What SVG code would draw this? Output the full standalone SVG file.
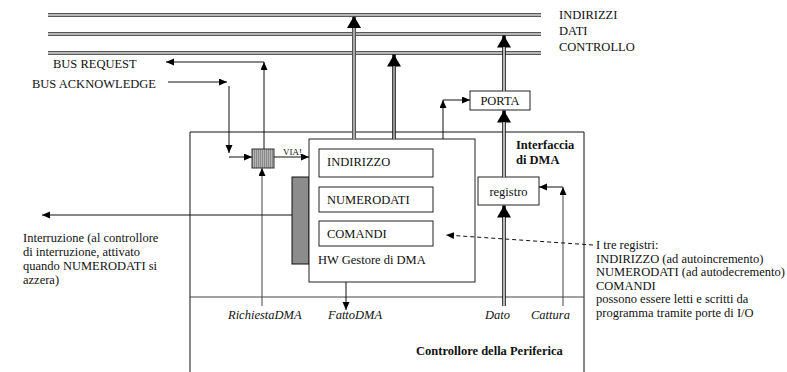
<svg xmlns="http://www.w3.org/2000/svg" width="787" height="372" viewBox="0 0 787 372">
  <style>
    text { font-family: 'Times New Roman', 'Liberation Serif', Tinos, 'Noto Serif', 'DejaVu Serif', serif; font-size: 12.5px; fill: #111; }
    .it { font-style: italic; }
    .b { font-weight: bold; }
    .small { font-size: 9px; }
    .ln { stroke: #111; stroke-width: 1; fill: none; }
    .ln2 { stroke: #444; stroke-width: 1; fill: none; }
    .bus { stroke: #111; stroke-width: 1; }
    .box { fill: #fff; stroke: #222; stroke-width: 1; }
    .dbl { stroke: #111; stroke-width: 3.6; fill: none; }
    .dblIn { stroke: #fff; stroke-width: 1.4; fill: none; }
    .gry { stroke: #555; stroke-width: 4; fill: none; }
    .gryIn { stroke: #a8a8a8; stroke-width: 2; fill: none; }
  </style>
  <defs>
    <marker id="big" markerUnits="userSpaceOnUse" markerWidth="14" markerHeight="14" refX="12" refY="7" orient="auto">
      <path d="M0,0 L12,7 L0,14 z" fill="#000"/>
    </marker>
    <marker id="sm" markerUnits="userSpaceOnUse" markerWidth="9" markerHeight="8" refX="8" refY="3.5" orient="auto">
      <path d="M0,0 L8,3.5 L0,7 z" fill="#000"/>
    </marker>
    <pattern id="stripes" patternUnits="userSpaceOnUse" width="2" height="4">
      <rect width="2" height="4" fill="#b4b4b4"/>
      <rect width="1" height="4" fill="#8a8a8a"/>
    </pattern>
  </defs>

  <!-- system bus: three double rails -->
  <g id="bus">
    <line class="bus" x1="48" y1="13.8" x2="541" y2="13.8"/>
    <line class="bus" x1="48" y1="16.2" x2="541" y2="16.2"/>
    <line class="bus" x1="48" y1="32.8" x2="541" y2="32.8"/>
    <line class="bus" x1="48" y1="35.2" x2="541" y2="35.2"/>
    <line class="bus" x1="48" y1="51.8" x2="541" y2="51.8"/>
    <line class="bus" x1="48" y1="54.2" x2="541" y2="54.2"/>
    <text x="559" y="19">INDIRIZZI</text>
    <text x="559" y="35">DATI</text>
    <text x="559" y="50.5">CONTROLLO</text>
  </g>

  <!-- peripheral controller frame with DMA interface section -->
  <g id="controllore">
    <path class="ln" d="M190,372 V132 H584 V372"/>
    <line class="ln2" x1="190" y1="297" x2="584" y2="297"/>
    <text class="b" x="416" y="354.5">Controllore della Periferica</text>
    <text class="b" x="516" y="148.5">Interfaccia</text>
    <text class="b" x="516" y="163.5">di DMA</text>
  </g>

  <!-- bus arbitration gate -->
  <g id="gate">
    <rect x="252" y="149" width="22" height="19" fill="url(#stripes)" stroke="#333" stroke-width="1"/>
    <text class="small" x="283" y="155">VIA!</text>
  </g>

  <!-- interrupt logic block -->
  <g id="interrupt-block">
    <rect x="292" y="177" width="17" height="87" fill="#8c8c8c" stroke="#111" stroke-width="1"/>
  </g>

  <!-- DMA manager hardware -->
  <g id="hw-dma">
    <rect class="box" x="309" y="139" width="166" height="143" stroke="#444"/>
    <text x="318" y="263.5">HW Gestore di DMA</text>
  </g>
  <g id="reg-indirizzo">
    <rect class="box" x="319" y="149" width="114" height="28"/>
    <text x="327" y="165.5">INDIRIZZO</text>
  </g>
  <g id="reg-numerodati">
    <rect class="box" x="319" y="187" width="114" height="25"/>
    <text x="327" y="203.5">NUMERODATI</text>
  </g>
  <g id="reg-comandi">
    <rect class="box" x="319" y="221" width="114" height="25"/>
    <text x="327" y="237.5">COMANDI</text>
  </g>

  <!-- I/O port and data register -->
  <g id="porta">
    <rect class="box" x="470" y="91" width="60" height="19" stroke="#444"/>
    <text x="500" y="104.5" text-anchor="middle">PORTA</text>
  </g>
  <g id="registro">
    <rect class="box" x="478" y="177" width="61" height="28" stroke="#444"/>
    <text x="508.5" y="195.5" text-anchor="middle">registro</text>
  </g>

  <!-- connectors -->
  <g id="connectors">
    <!-- bus request / acknowledge handshake -->
    <path class="ln" d="M264,149 V62" marker-end="url(#sm)"/>
    <path class="ln" d="M264,62 H166" marker-end="url(#sm)"/>
    <path class="ln" d="M168,82 H227" marker-end="url(#sm)"/>
    <path class="ln" d="M229,86 V153" marker-end="url(#sm)"/>
    <path class="ln" d="M229,157 H252" marker-end="url(#sm)"/>
    <path class="ln" d="M274,157 H309" marker-end="url(#sm)"/>
    <path class="ln2" d="M262,306 V168" marker-end="url(#sm)"/>
    <!-- interrupt request -->
    <path class="ln" d="M292,215 H42" marker-end="url(#sm)"/>
    <!-- DMA done -->
    <path class="ln" d="M346,282 V310" marker-end="url(#sm)"/>
    <!-- address to bus -->
    <path class="gry" d="M354,139 V16" marker-end="url(#big)"/>
    <path class="gryIn" d="M354,139 V28"/>
    <!-- control to bus -->
    <path class="dbl" d="M394,139 V54.5" marker-end="url(#big)"/>
    <path class="dblIn" d="M394,139 V66" style="stroke:#cfcfcf"/>
    <!-- HW to PORTA control -->
    <path class="ln" d="M443,139 V100" marker-end="url(#sm)"/>
    <path class="ln" d="M443,100 H470" marker-end="url(#sm)"/>
    <!-- PORTA to data bus -->
    <path class="dbl" d="M504,91 V35.5" marker-end="url(#big)"/>
    <path class="dblIn" d="M504,91 V47"/>
    <!-- registro to PORTA -->
    <path class="dbl" d="M504,177 V110.5" marker-end="url(#big)"/>
    <path class="dblIn" d="M504,177 V122"/>
    <!-- Dato into registro -->
    <path class="dbl" d="M504,306 V205.5" marker-end="url(#big)"/>
    <path class="dblIn" d="M504,306 V217"/>
    <!-- Cattura strobe -->
    <path class="ln2" d="M563,306 V187" marker-end="url(#sm)"/>
    <path class="ln" d="M563,187 H539" marker-end="url(#sm)"/>
    <!-- note pointer -->
    <path class="ln" d="M593,245 L446,235" stroke-dasharray="4,3" marker-end="url(#sm)"/>
  </g>

  <!-- signal labels -->
  <g id="labels">
    <text x="53" y="68">BUS REQUEST</text>
    <text x="32" y="88">BUS ACKNOWLEDGE</text>
    <text class="it" x="228" y="319">RichiestaDMA</text>
    <text class="it" x="328" y="319">FattoDMA</text>
    <text class="it" x="485" y="319">Dato</text>
    <text class="it" x="531" y="319">Cattura</text>
  </g>

  <!-- notes -->
  <g id="note-interrupt">
    <text x="23" y="242">Interruzione (al controllore</text>
    <text x="23" y="256">di interruzione, attivato</text>
    <text x="23" y="270">quando NUMERODATI si</text>
    <text x="23" y="284">azzera)</text>
  </g>
  <g id="note-registri">
    <text x="596" y="249">I tre registri:</text>
    <text x="596" y="262.5">INDIRIZZO (ad autoincremento)</text>
    <text x="596" y="276">NUMERODATI (ad autodecremento)</text>
    <text x="596" y="289.5">COMANDI</text>
    <text x="596" y="303">possono essere letti e scritti da</text>
    <text x="596" y="316.5">programma tramite porte di I/O</text>
  </g>
</svg>
